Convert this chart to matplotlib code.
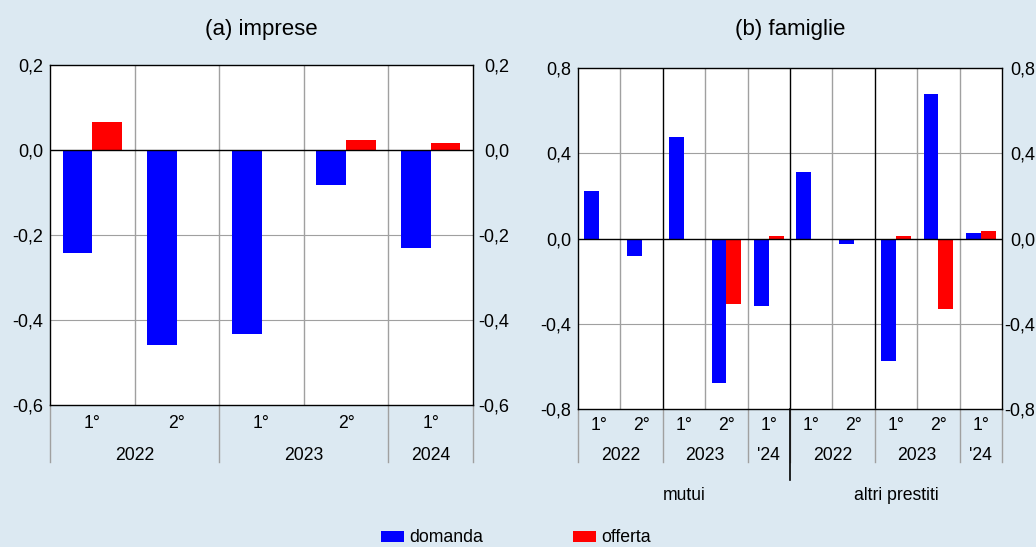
import matplotlib
matplotlib.use("Agg")
import matplotlib.pyplot as plt
import matplotlib.transforms as mtransforms
from matplotlib.patches import Patch
import numpy as np

plt.rcParams['font.family'] = ['Liberation Sans', 'DejaVu Sans']

# ---- data ----
imp_semesters = ['1°', '2°', '1°', '2°', '1°']
imp_years = ['2022', '2023', '2024']
imp_year_spans = [(0, 2), (2, 4), (4, 5)]
imp_domanda = [-0.242, -0.459, -0.434, -0.083, -0.231]
imp_offerta = [0.067, 0.0, 0.0, 0.024, 0.017]

fam_semesters = ['1°', '2°', '1°', '2°', '1°', '1°', '2°', '1°', '2°', '1°']
fam_years = ['2022', '2023', "'24", '2022', '2023', "'24"]
fam_year_spans = [(0, 2), (2, 4), (4, 5), (5, 7), (7, 9), (9, 10)]
fam_groups = ['mutui', 'altri prestiti']
fam_group_spans = [(0, 5), (5, 10)]
fam_domanda = [0.222, -0.082, 0.475, -0.679, -0.316, 0.310, -0.025, -0.576, 0.680, 0.025]
fam_offerta = [0.0, 0.0, 0.0, -0.307, 0.012, 0.0, 0.0, 0.014, -0.333, 0.036]

imp_yticks = [-0.6, -0.4, -0.2, 0.0, 0.2]
fam_yticks = [-0.8, -0.4, 0.0, 0.4, 0.8]

titles = ['(a) imprese', '(b) famiglie']
legend_labels = ['domanda', 'offerta']

BG = '#dce9f2'
BLUE = '#0000ff'
RED = '#ff0000'
GRID = '#a0a0a0'
W, H = 1036, 547
FS = 12.7
TFS = 13

fig = plt.figure(figsize=(W / 100, H / 100), dpi=100, facecolor=BG)


def px_axes(x0, y0, x1, y1):
    return fig.add_axes([x0 / W, 1 - y1 / H, (x1 - x0) / W, (y1 - y0) / H])


def fmt(v):
    return ('%.1f' % v).replace('.', ',')


def draw_panel(ax, dom, off, yticks, ylim, semesters, years, spans,
               dark_lines, axh_px, sem_off, year_off, sep_off, right_px):
    n = len(dom)
    x = np.arange(n)
    bw = 0.35
    ax.set_facecolor('white')
    ax.bar(x + 0.5 - bw / 2, dom, width=bw, color=BLUE, linewidth=0, zorder=3)
    ax.bar(x + 0.5 + bw / 2, off, width=bw, color=RED, linewidth=0, zorder=3)
    ax.set_xlim(0, n)
    ax.set_ylim(*ylim)
    for t in yticks:
        if t == 0:
            ax.axhline(0, color='black', lw=1.0, zorder=4)
        elif ylim[0] < t < ylim[1]:
            ax.axhline(t, color=GRID, lw=0.8, zorder=1)
    for b in range(1, n):
        c = 'black' if b in dark_lines else GRID
        ax.axvline(b, color=c, lw=1.0, zorder=2)
    ax.set_xticks([])
    ax.set_yticks(yticks)
    ax.set_yticklabels([fmt(t) for t in yticks])
    ax.tick_params(axis='y', length=0, pad=5, labelsize=TFS,
                   labelleft=True, labelright=False)
    # right-hand labels, right-aligned at a fixed offset past the axis
    ytr = mtransforms.blended_transform_factory(ax.transAxes, ax.transData)
    off_tr = ytr + mtransforms.ScaledTranslation(right_px / 100, 0,
                                                 fig.dpi_scale_trans)
    for t in yticks:
        ax.text(1.0, t, fmt(t), transform=off_tr, ha='right',
                va='center_baseline', fontsize=TFS, clip_on=False)
    for s in ax.spines.values():
        s.set_color('black')
        s.set_linewidth(1.0)
    trans = mtransforms.blended_transform_factory(ax.transData, ax.transAxes)
    for i, lab in enumerate(semesters):
        ax.text(i + 0.5, -sem_off / axh_px, lab, transform=trans,
                ha='center', va='center', fontsize=FS)
    bounds = set()
    for lab, (a, b) in zip(years, spans):
        ax.text((a + b) / 2, -year_off / axh_px, lab, transform=trans,
                ha='center', va='center', fontsize=FS)
        bounds.add(a)
        bounds.add(b)
    for b in sorted(bounds):
        ax.plot([b, b], [0, -sep_off / axh_px], transform=trans,
                color=GRID, lw=1.0, clip_on=False)
    return trans


# left panel
axL = px_axes(50, 65, 473, 405)
draw_panel(axL, imp_domanda, imp_offerta, imp_yticks, (-0.6, 0.2),
           imp_semesters, imp_years, imp_year_spans,
           dark_lines=set(), axh_px=340, sem_off=19, year_off=50, sep_off=57,
           right_px=36)

# right panel
axR = px_axes(578, 68, 1002, 409)
tR = draw_panel(axR, fam_domanda, fam_offerta, fam_yticks, (-0.8, 0.8),
                fam_semesters, fam_years, fam_year_spans,
                dark_lines={2, 5, 7}, axh_px=341, sem_off=16, year_off=47,
                sep_off=53, right_px=33.5)

axR.plot([5, 5], [0, -71 / 341], transform=tR, color='black', lw=1.2,
         clip_on=False)
for lab, (a, b) in zip(fam_groups, fam_group_spans):
    axR.text((a + b) / 2, -87 / 341, lab, transform=tR, ha='center',
             va='center', fontsize=FS)

fig.text(261 / W, 1 - 30 / H, titles[0], ha='center', va='center', fontsize=16)
fig.text(790 / W, 1 - 30 / H, titles[1], ha='center', va='center', fontsize=16)

handles = [Patch(facecolor=BLUE, edgecolor='none'),
           Patch(facecolor=RED, edgecolor='none')]
fig.legend(handles, legend_labels, loc='center', bbox_to_anchor=(516 / W, 1 - 538 / H),
           ncol=2, frameon=False, fontsize=FS, handlelength=1.3,
           handleheight=0.6, handletextpad=0.3, columnspacing=5.1,
           borderaxespad=0, borderpad=0)

fig.savefig('out.png', dpi=100, facecolor=BG)
